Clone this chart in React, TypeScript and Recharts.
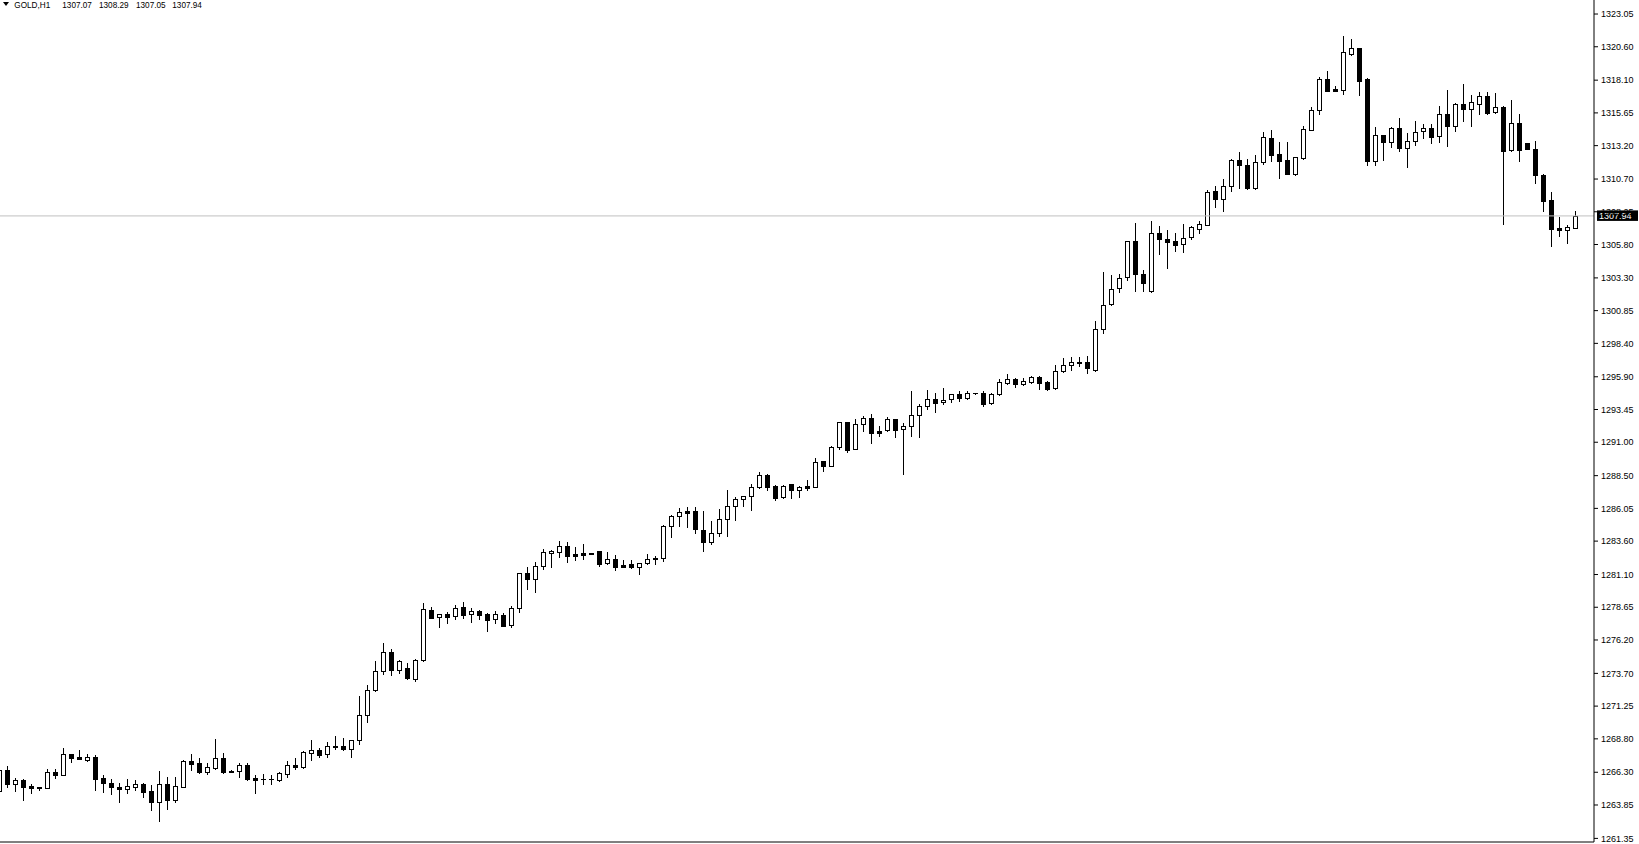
import React from 'react';
import { ComposedChart, Bar, XAxis, YAxis, ReferenceLine } from 'recharts';

const symbol = 'GOLD,H1';

// one entry per hourly bar, oldest first (first bar is partly cut off at the left edge)
const opens = [
  1264.91, 1266.46, 1265.44, 1265.71, 1265.26, 1265.16, 1265.14, 1266.31, 1266.11, 1267.66,
  1267.44, 1267.24, 1267.44, 1265.84, 1265.49, 1265.19, 1265.06, 1265.21, 1265.41, 1264.89,
  1264.11, 1265.41, 1264.24, 1265.21, 1267.14, 1266.99, 1266.34, 1266.59, 1267.34, 1266.39,
  1266.41, 1266.84, 1265.86, 1265.79, 1265.77, 1265.74, 1266.14, 1266.81, 1266.71, 1267.76,
  1267.96, 1267.64, 1268.19, 1268.24, 1268.06, 1268.69, 1270.56, 1272.43, 1273.85, 1275.27,
  1273.92, 1274.07, 1273.30, 1274.67, 1278.42, 1277.89, 1278.12, 1277.97, 1278.64, 1278.12,
  1278.37, 1278.12, 1277.74, 1278.04, 1277.29, 1278.56, 1281.18, 1280.78, 1281.70, 1282.73,
  1282.75, 1283.20, 1282.63, 1282.70, 1282.68, 1282.83, 1281.93, 1282.25, 1281.78, 1281.88,
  1281.63, 1281.93, 1282.35, 1282.30, 1284.70, 1285.45, 1285.85, 1285.85, 1284.42, 1283.50,
  1284.17, 1285.27, 1286.20, 1286.72, 1286.95, 1287.67, 1288.52, 1287.72, 1286.92, 1287.85,
  1287.45, 1287.72, 1287.67, 1289.57, 1289.24, 1290.67, 1292.49, 1290.52, 1292.34, 1292.79,
  1291.86, 1291.89, 1292.71, 1291.96, 1292.19, 1293.01, 1293.68, 1294.21, 1293.98, 1294.21,
  1294.58, 1294.28, 1294.66, 1294.68, 1293.91, 1294.58, 1295.46, 1295.71, 1295.33, 1295.53,
  1295.86, 1295.48, 1295.03, 1296.36, 1296.75, 1296.95, 1296.98, 1296.43, 1299.45, 1301.32,
  1302.52, 1303.34, 1306.04, 1303.57, 1302.29, 1306.64, 1306.19, 1306.04, 1305.81, 1306.34,
  1306.98, 1307.26, 1309.80, 1309.23, 1310.15, 1312.10, 1311.73, 1310.05, 1311.95, 1313.75,
  1312.55, 1312.10, 1311.10, 1312.30, 1314.40, 1315.84, 1318.19, 1317.41, 1317.34, 1320.08,
  1320.48, 1318.19, 1312.05, 1313.97, 1313.45, 1314.50, 1313.05, 1313.52, 1314.27, 1314.50,
  1313.90, 1315.54, 1314.65, 1316.29, 1315.97, 1316.34, 1316.89, 1315.69, 1316.06, 1312.85,
  1314.87, 1313.37, 1312.92, 1311.00, 1309.10, 1307.01, 1306.86, 1307.07,
];

const highs = [
  1266.60, 1266.76, 1265.89, 1265.76, 1265.41, 1265.18, 1266.51, 1266.51, 1268.11, 1267.68,
  1267.96, 1267.64, 1267.59, 1266.09, 1265.79, 1265.51, 1265.79, 1265.69, 1265.51, 1265.34,
  1266.39, 1265.96, 1265.96, 1267.19, 1267.66, 1267.36, 1266.99, 1268.78, 1267.73, 1266.46,
  1267.01, 1267.01, 1266.09, 1266.14, 1266.09, 1266.29, 1267.14, 1267.34, 1267.86, 1268.71,
  1268.09, 1268.56, 1269.01, 1268.83, 1268.71, 1272.00, 1272.83, 1274.62, 1275.97, 1275.52,
  1274.67, 1274.47, 1274.77, 1278.96, 1278.67, 1278.14, 1278.27, 1278.81, 1279.04, 1278.57,
  1278.44, 1278.24, 1278.34, 1278.19, 1278.73, 1281.25, 1281.65, 1282.03, 1283.00, 1282.90,
  1283.60, 1283.53, 1283.15, 1283.38, 1282.70, 1282.85, 1282.78, 1282.55, 1282.15, 1282.15,
  1281.97, 1282.63, 1282.48, 1284.80, 1285.55, 1286.05, 1286.15, 1286.15, 1285.85, 1285.10,
  1286.00, 1287.42, 1286.89, 1286.97, 1287.85, 1288.77, 1288.60, 1287.80, 1287.80, 1287.87,
  1287.70, 1288.17, 1289.82, 1289.59, 1290.69, 1292.51, 1292.51, 1292.74, 1292.94, 1293.11,
  1292.19, 1292.86, 1292.73, 1292.44, 1294.83, 1293.86, 1294.91, 1294.68, 1295.06, 1294.60,
  1294.83, 1294.83, 1294.70, 1294.86, 1294.68, 1295.71, 1296.11, 1295.78, 1295.78, 1295.96,
  1295.96, 1295.61, 1296.78, 1297.30, 1297.35, 1297.35, 1297.45, 1300.07, 1303.74, 1303.49,
  1303.57, 1306.06, 1307.41, 1303.89, 1307.56, 1307.18, 1306.86, 1306.66, 1307.33, 1307.18,
  1307.56, 1309.90, 1310.18, 1310.70, 1312.18, 1312.72, 1312.18, 1312.50, 1314.22, 1314.37,
  1313.47, 1313.47, 1312.34, 1314.65, 1316.07, 1318.34, 1318.79, 1317.66, 1321.41, 1321.18,
  1320.50, 1318.24, 1314.60, 1313.99, 1314.60, 1315.27, 1314.15, 1315.04, 1314.82, 1314.82,
  1316.17, 1317.36, 1316.37, 1317.81, 1316.99, 1317.22, 1317.22, 1317.11, 1316.14, 1316.64,
  1315.54, 1313.39, 1313.55, 1311.08, 1309.70, 1307.83, 1307.23, 1308.29,
];

const lows = [
  1264.80, 1265.16, 1264.91, 1264.24, 1264.76, 1264.96, 1265.12, 1265.89, 1266.09, 1267.09,
  1267.26, 1267.16, 1264.96, 1264.84, 1264.69, 1264.09, 1264.76, 1264.94, 1264.46, 1263.51,
  1262.67, 1263.56, 1264.06, 1265.16, 1266.49, 1266.27, 1266.14, 1266.56, 1266.26, 1266.31,
  1265.96, 1265.71, 1264.76, 1265.44, 1265.44, 1265.67, 1265.97, 1266.56, 1266.64, 1267.24,
  1267.46, 1267.46, 1268.04, 1267.99, 1267.46, 1268.44, 1270.08, 1272.41, 1273.68, 1273.58,
  1273.70, 1273.28, 1273.15, 1274.65, 1277.85, 1277.19, 1277.49, 1277.79, 1277.87, 1277.57,
  1277.79, 1276.89, 1277.49, 1277.24, 1277.14, 1278.26, 1280.03, 1279.81, 1281.53, 1281.68,
  1282.43, 1282.05, 1282.20, 1282.28, 1282.64, 1281.75, 1281.91, 1281.45, 1281.66, 1281.61,
  1281.16, 1281.85, 1281.88, 1282.13, 1283.92, 1284.72, 1284.67, 1284.20, 1282.88, 1283.35,
  1284.00, 1284.00, 1285.18, 1286.25, 1285.95, 1287.60, 1287.45, 1286.70, 1286.85, 1286.85,
  1286.92, 1287.45, 1287.65, 1288.87, 1289.22, 1290.49, 1290.29, 1290.50, 1291.86, 1290.97,
  1291.49, 1291.87, 1291.41, 1288.65, 1291.49, 1291.41, 1293.49, 1293.29, 1293.83, 1294.03,
  1294.11, 1294.26, 1294.64, 1293.69, 1293.84, 1294.53, 1295.33, 1295.16, 1295.31, 1295.46,
  1295.01, 1294.93, 1295.01, 1296.26, 1296.41, 1296.73, 1296.21, 1296.33, 1299.20, 1301.25,
  1302.27, 1303.17, 1302.29, 1302.29, 1302.27, 1305.11, 1304.07, 1305.31, 1305.26, 1306.19,
  1306.68, 1307.24, 1308.63, 1308.33, 1309.83, 1310.00, 1309.98, 1309.98, 1311.80, 1312.08,
  1310.80, 1311.08, 1311.03, 1312.23, 1314.35, 1315.54, 1317.26, 1317.29, 1317.09, 1320.01,
  1317.02, 1311.78, 1311.78, 1312.15, 1313.12, 1312.82, 1311.63, 1313.27, 1313.80, 1313.42,
  1313.50, 1313.20, 1314.30, 1315.07, 1314.70, 1315.59, 1315.59, 1315.67, 1307.36, 1312.83,
  1312.07, 1312.95, 1310.43, 1308.33, 1305.71, 1306.46, 1305.94, 1307.05,
];

const closes = [
  1266.46, 1265.44, 1265.71, 1265.21, 1265.14, 1265.11, 1266.31, 1266.09, 1267.66, 1267.39,
  1267.31, 1267.44, 1265.81, 1265.51, 1265.21, 1265.06, 1265.26, 1265.41, 1264.84, 1264.09,
  1265.41, 1264.24, 1265.26, 1267.14, 1266.91, 1266.29, 1266.66, 1267.34, 1266.34, 1266.34,
  1266.84, 1265.79, 1265.74, 1265.80, 1265.78, 1266.21, 1266.81, 1266.69, 1267.81, 1267.96,
  1267.61, 1268.24, 1268.26, 1268.06, 1268.69, 1270.56, 1272.43, 1273.85, 1275.27, 1273.92,
  1274.60, 1273.38, 1274.67, 1278.49, 1277.87, 1278.12, 1277.94, 1278.57, 1278.09, 1278.34,
  1278.09, 1277.72, 1278.14, 1277.26, 1278.56, 1281.18, 1280.78, 1281.70, 1282.75, 1282.83,
  1283.20, 1282.50, 1282.50, 1282.58, 1282.66, 1281.90, 1282.25, 1281.68, 1281.68, 1281.63,
  1281.95, 1282.23, 1282.23, 1284.70, 1285.47, 1285.75, 1285.72, 1284.47, 1283.50, 1284.17,
  1285.22, 1286.22, 1286.72, 1286.95, 1287.65, 1288.52, 1287.67, 1286.85, 1287.72, 1287.45,
  1287.62, 1287.60, 1289.49, 1289.24, 1290.62, 1292.49, 1290.44, 1292.34, 1292.79, 1291.71,
  1291.71, 1292.71, 1291.94, 1292.19, 1293.01, 1293.68, 1294.21, 1293.96, 1294.18, 1294.58,
  1294.28, 1294.68, 1294.68, 1293.84, 1294.58, 1295.48, 1295.71, 1295.33, 1295.56, 1295.86,
  1295.43, 1295.01, 1296.31, 1296.78, 1296.98, 1296.98, 1296.53, 1299.45, 1301.30, 1302.49,
  1303.32, 1306.04, 1303.57, 1302.94, 1306.64, 1306.19, 1306.01, 1305.79, 1306.26, 1307.08,
  1307.31, 1309.75, 1309.23, 1310.15, 1312.10, 1311.73, 1310.03, 1311.95, 1313.82, 1312.52,
  1312.08, 1311.10, 1312.32, 1314.42, 1315.84, 1318.19, 1317.31, 1317.31, 1320.18, 1320.48,
  1318.06, 1312.05, 1313.97, 1313.50, 1314.50, 1313.05, 1313.52, 1314.20, 1314.50, 1313.87,
  1315.54, 1314.70, 1316.29, 1315.97, 1316.44, 1316.89, 1315.67, 1316.06, 1312.82, 1314.87,
  1312.87, 1312.97, 1310.98, 1309.08, 1306.98, 1306.86, 1307.08, 1307.94,
];

const priceTicks = [
  1261.35, 1263.85, 1266.3, 1268.8, 1271.25, 1273.7, 1276.2, 1278.65, 1281.1, 1283.6,
  1286.05, 1288.5, 1291.0, 1293.45, 1295.9, 1298.4, 1300.85, 1303.3, 1305.8, 1308.25,
  1310.7, 1313.2, 1315.65, 1318.1, 1320.6, 1323.05,
];

const barTicks = [8, 16, 24, 32, 40, 48, 56, 64, 72, 80, 88, 96, 104, 112, 120, 128, 136, 144, 152, 160, 168, 176, 184, 192];

const priceDomain = [1261.08, 1324.1];
const barDomain = [0.0875, 199.3375];
const bid = closes[closes.length - 1];

const rows = opens.map((o, i) => ({
  i,
  o,
  h: highs[i],
  l: lows[i],
  c: closes[i],
  range: [lows[i], highs[i]],
}));

const FONT = '"Liberation Sans", Arial, sans-serif';

const Candle = (props: any) => {
  const { x, y, width, height, payload } = props;
  if (x == null || y == null || !payload) return null;
  const { o, h, l, c } = payload;
  const span = h - l;
  const ppu = span > 0 ? height / span : 0;
  const yOf = (v: number) => y + (h - v) * ppu;
  const cx = Math.round(x + width / 2);
  const wx = cx + 0.5;
  const top = Math.round(yOf(Math.max(o, c)));
  const bot = Math.round(yOf(Math.min(o, c)));
  const y1 = Math.round(y);
  const y2 = Math.round(y + height) + 1;
  const bull = c >= o;
  return (
    <g shapeRendering="crispEdges">
      <line x1={wx} x2={wx} y1={y1} y2={y2} stroke="#000" strokeWidth={1} />
      {bot - top < 1 ? (
        <line x1={cx - 2} x2={cx + 3} y1={top + 0.5} y2={top + 0.5} stroke="#000" strokeWidth={1} />
      ) : (
        <rect
          x={cx - 1.5}
          y={top + 0.5}
          width={4}
          height={bot - top}
          fill={bull ? '#fff' : '#000'}
          stroke="#000"
          strokeWidth={1}
        />
      )}
    </g>
  );
};

const BidLabel = (props: any) => {
  const vb = props.viewBox || {};
  const bx = vb.x + vb.width + 3;
  const by = vb.y;
  return (
    <g>
      <rect x={bx} y={by - 5.5} width={41} height={10.5} fill="#000" />
      <text x={bx + 2} y={by + 3.3} fill="#fff" fontSize={9} fontFamily={FONT}>
        {bid.toFixed(2)}
      </text>
    </g>
  );
};

const last = rows[rows.length - 1];
const headerNumbers = [last.o, last.h, last.l, last.c];
const headerX = [62.3, 99, 136, 172.3];

export default function App() {
  return (
    <div style={{ position: 'absolute', left: 0, top: 0, width: 1639, height: 844, background: '#fff' }}>
      <ComposedChart
        width={1639}
        height={844}
        data={rows}
        margin={{ top: 0, right: 0, bottom: 0, left: 0 }}
      >
        <XAxis
          dataKey="i"
          type="number"
          domain={barDomain}
          allowDataOverflow
          ticks={barTicks}
          tick={false}
          tickSize={4}
          height={2}
          axisLine={{ stroke: '#000' }}
          tickLine={{ stroke: '#000' }}
        />
        <YAxis
          orientation="right"
          width={45}
          type="number"
          domain={priceDomain}
          allowDataOverflow
          ticks={priceTicks}
          interval={0}
          tickSize={4}
          tickMargin={3}
          tickFormatter={(v: number) => v.toFixed(2)}
          tick={{ fill: '#000', fontSize: 9, fontFamily: FONT }}
          axisLine={{ stroke: '#000' }}
          tickLine={{ stroke: '#000' }}
        />
        <ReferenceLine y={bid} stroke="#c0c0c0" strokeWidth={1} label={<BidLabel />} ifOverflow="visible" />
        <Bar dataKey="range" barSize={5} shape={<Candle />} isAnimationActive={false} />
      </ComposedChart>
      <svg
        width={300}
        height={12}
        style={{ position: 'absolute', left: 0, top: 0, pointerEvents: 'none' }}
      >
        <polygon points="3,2 9,2 6,6" fill="#000" />
        <text x={14.3} y={7.6} fontSize={8.2} fontFamily={FONT} fill="#000">
          {symbol}
        </text>
        {headerNumbers.map((v, j) => (
          <text key={j} x={headerX[j]} y={7.6} fontSize={8.2} fontFamily={FONT} fill="#000">
            {v.toFixed(2)}
          </text>
        ))}
      </svg>
    </div>
  );
}
